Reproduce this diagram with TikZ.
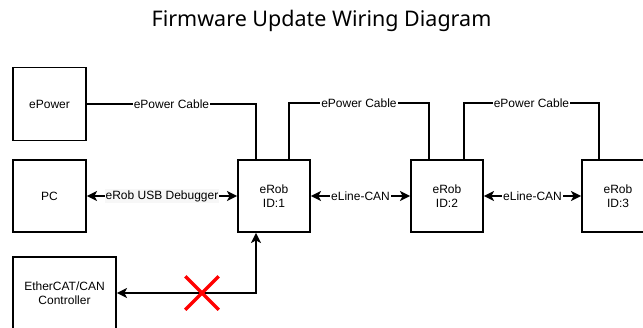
\documentclass[tikz,border=0pt]{standalone}
\usepackage{fontspec}
\setmainfont{Liberation Sans}
\newfontfamily\titlefont{Noto Sans}
\usetikzlibrary{arrows.meta,shapes.misc}
\tikzset{
  unit/.style={draw,line width=1.9pt,minimum width=72pt,minimum height=72pt,inner sep=0pt,align=center,font=\fontsize{12}{14}\selectfont},
  cable/.style={line width=1.9pt},
  link/.style={line width=1.9pt,{Stealth[length=10pt,width=10pt,inset=2.5pt]}-{Stealth[length=10pt,width=10pt,inset=2.5pt]}},
  lbl/.style={fill=white,inner sep=1pt,font=\fontsize{12}{14}\selectfont},
}
\begin{document}
\begin{tikzpicture}[x=1pt,y=-1pt]
\useasboundingbox (0,0) rectangle (643,327);
\node[font=\titlefont\fontsize{21.5}{25}\selectfont] (title) at (321.5,21) {Firmware Update Wiring Diagram};
\node[unit,minimum width=73pt,minimum height=73pt] (epower) at (49.5,104) {ePower};
\node[unit,minimum width=73pt] (pc) at (49.5,196) {PC};
\node[unit] (erob1) at (274,196) {eRob\\ID:1};
\node[unit] (erob2) at (447,196) {eRob\\ID:2};
\node[unit] (erob3) at (618,196) {eRob\\ID:3};
\node[unit,minimum width=103pt] (ctrl) at (64.5,293) {EtherCAT/CAN\\Controller};
% power cables
\draw[cable] (epower.east) -| node[lbl,pos=0.25]{ePower Cable} ([xshift=-18pt]erob1.north);
\draw[cable] ([xshift=15pt]erob1.north) -- ++(0,-56) -| node[lbl,pos=0.25]{ePower Cable} ([xshift=-18pt]erob2.north);
\draw[cable] ([xshift=17pt]erob2.north) -- ++(0,-56) -| node[lbl,pos=0.25]{ePower Cable} ([xshift=-19pt]erob3.north);
% data links
\draw[link] (pc.east) -- node[lbl,fill=gray!6]{eRob USB Debugger} (erob1.west);
\draw[link] (erob1.east) -- node[lbl]{eLine-CAN} (erob2.west);
\draw[link] (erob2.east) -- node[lbl]{eLine-CAN} (erob3.west);
\draw[link] (ctrl.east) -| ([xshift=-18pt]erob1.south);
\node[cross out,draw=red,line width=3.5pt,minimum size=30pt,inner sep=0pt] (nolink) at (202,293) {};
\end{tikzpicture}
\end{document}
